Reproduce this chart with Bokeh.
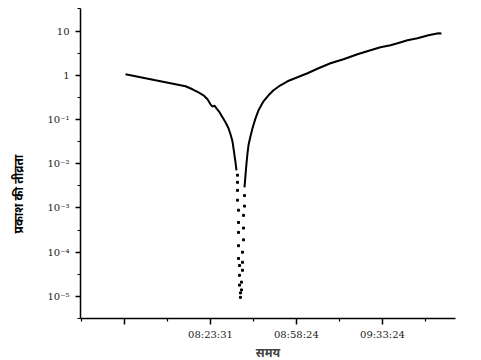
from bokeh.plotting import figure
from bokeh.models import (FixedTicker, Range1d, CustomJSTickFormatter, Title)
from bokeh.embed import file_html
from bokeh.resources import INLINE

# time in seconds of day, relative light intensity
line_left_t = [28139, 28383, 28626, 28870, 29114, 29358, 29602, 29772, 29918,
               30040, 30138, 30211, 30260, 30309, 30357, 30430, 30504, 30577,
               30650, 30699, 30747, 30772, 30796, 30820, 30845]
line_left_i = [1.05, 0.95, 0.855, 0.77, 0.695, 0.626, 0.564, 0.482, 0.412,
               0.353, 0.286, 0.221, 0.195, 0.205, 0.179, 0.146, 0.112, 0.0865,
               0.0633, 0.0463, 0.0321, 0.0223, 0.0155, 0.0108, 0.0071]

line_right_t = [31040, 31064, 31089, 31113, 31137, 31186, 31235, 31308, 31381,
                31503, 31625, 31747, 31917, 32088, 32332, 32576, 32844, 33136,
                33453, 33795, 34111, 34355, 34599, 34770, 35013, 35257, 35525,
                35769, 35842]
line_right_i = [0.00292, 0.00547, 0.0102, 0.0172, 0.0261, 0.0417, 0.0633, 0.106,
                0.161, 0.258, 0.353, 0.458, 0.594, 0.732, 0.901, 1.11, 1.44, 1.87,
                2.30, 2.99, 3.68, 4.30, 4.77, 5.30, 6.19, 6.87, 8.04, 8.91, 8.8]

dots_t = [30869, 30869, 30869, 30869, 30894, 30894, 30894, 30894, 30894,
          30918, 30918, 30918, 30942, 30942,
          31040, 31040, 31016, 31016, 31016, 30991, 30991, 30991, 30967, 30967]
dots_i = [5.5e-3, 3.8e-3, 2.5e-3, 1.5e-3, 8.9e-4, 4.7e-4, 2.8e-4, 1.4e-4, 7.2e-5,
          5.0e-5, 3.0e-5, 1.8e-5, 1.2e-5, 9.5e-6,
          1.9e-3, 1.1e-3, 6.8e-4, 3.5e-4, 1.9e-4, 1.0e-4, 5.9e-5, 3.9e-5, 2.1e-5, 1.4e-5]

x_ticks = [28118, 30211, 32304, 34404]
x_tick_labels = ["", "08:23:31", "08:58:24", "09:33:24"]
x_minor = [27071, 29165, 31258, 33354, 35454]

y_ticks = [1e-5, 1e-4, 1e-3, 1e-2, 1e-1, 1, 10]
y_minor = [10 ** (k + 0.5) for k in range(-6, 2)]

p = figure(frame_width=375, frame_height=310, y_axis_type="log",
           x_range=Range1d(27042, 36184), y_range=Range1d(10 ** -5.5, 10 ** 1.51),
           output_backend="svg", toolbar_location=None,
           min_border_left=80, min_border_right=10, min_border_top=8,
           min_border_bottom=41)
p.outline_line_color = None
p.grid.visible = False
p.background_fill_color = "white"

p.line(line_left_t, line_left_i, line_color="black", line_width=2)
p.line(line_right_t, line_right_i, line_color="black", line_width=2)
p.scatter(dots_t, dots_i, marker="square", size=2, color="black")

xa = p.xaxis[0]
xa.ticker = FixedTicker(ticks=x_ticks, minor_ticks=x_minor)
xa.major_label_overrides = {t: l for t, l in zip(x_ticks, x_tick_labels)}
xa.axis_line_width = 1.5
xa.major_tick_line_width = 1.5
xa.minor_tick_line_width = 1.2
xa.major_tick_out = 6
xa.major_tick_in = 0
xa.minor_tick_out = 3
xa.minor_tick_in = 0
xa.major_label_text_font = "DejaVu Serif"
xa.major_label_text_font_size = "10px"
xa.major_label_text_color = "#222222"
xa.major_label_standoff = 4
xa.axis_label = "समय"
xa.axis_label_text_font = "Noto Sans"
xa.axis_label_text_font_style = "bold"
xa.axis_label_text_font_size = "12px"
xa.axis_label_standoff = 1

ya = p.yaxis[0]
ya.ticker = FixedTicker(ticks=y_ticks, minor_ticks=y_minor)
ya.formatter = CustomJSTickFormatter(code="""
const e = Math.round(Math.log10(tick));
if (e === 0) return "1";
if (e === 1) return "10";
const sup = {"-": "\u207b", "0": "\u2070", "1": "\u00b9", "2": "\u00b2", "3": "\u00b3",
             "4": "\u2074", "5": "\u2075", "6": "\u2076", "7": "\u2077", "8": "\u2078", "9": "\u2079"};
return "10" + String(e).split("").map(c => sup[c]).join("");
""")
ya.axis_line_width = 1.5
ya.major_tick_line_width = 1.5
ya.minor_tick_line_width = 1.2
ya.major_tick_out = 5
ya.major_tick_in = 0
ya.minor_tick_out = 3
ya.minor_tick_in = 0
ya.major_label_text_font = "DejaVu Serif"
ya.major_label_text_font_size = "10px"
ya.major_label_text_color = "#222222"
ya.major_label_standoff = 6
ya.axis_label = " "
ya.axis_label_text_font_size = "4px"
ya.axis_label_standoff = 5

ytitle = Title(text="प्रकाश की तीव्रता", align="left", offset=85,
               text_font="Noto Sans", text_font_style="bold",
               text_font_size="12px", text_color="black")
p.add_layout(ytitle, "left")

open("out.html", "w").write(file_html(p, INLINE))
